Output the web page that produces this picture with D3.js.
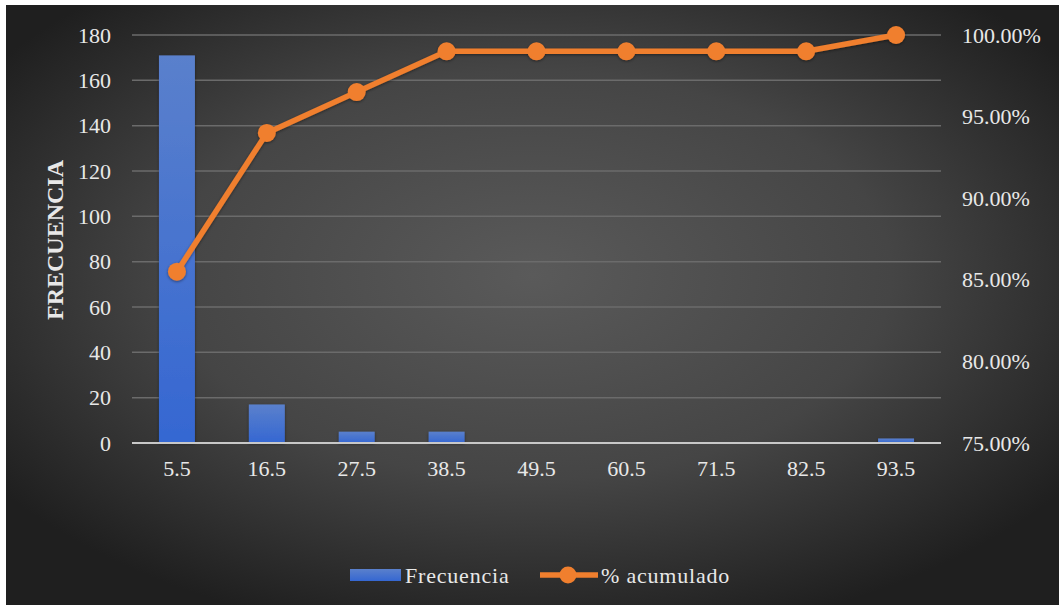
<!DOCTYPE html>
<html>
<head>
<meta charset="utf-8">
<script src="https://cdn.jsdelivr.net/npm/d3@7"></script>
<style>
html,body{margin:0;padding:0;background:#fff;}
svg{display:block;}
text{font-family:"Liberation Serif","Times New Roman",serif;}
</style>
</head>
<body>
<svg id="chart" width="1059" height="605"></svg>
<script>
const categories = ["5.5","16.5","27.5","38.5","49.5","60.5","71.5","82.5","93.5"];
const frecuencia = [171, 17, 5, 5, 0, 0, 0, 0, 2];
const acumulado = [0.855, 0.94, 0.965, 0.99, 0.99, 0.99, 0.99, 0.99, 1.0];
const leftTicks = [0,20,40,60,80,100,120,140,160,180];
const rightTicks = [0.75,0.80,0.85,0.90,0.95,1.00];

const W = 1059, H = 605;
const svg = d3.select("#chart");
const defs = svg.append("defs");

const bg = defs.append("radialGradient").attr("id","bg")
  .attr("cx","50%").attr("cy","45%").attr("r","62%");
bg.append("stop").attr("offset","0%").attr("stop-color","#5a5a5a");
bg.append("stop").attr("offset","55%").attr("stop-color","#454545");
bg.append("stop").attr("offset","100%").attr("stop-color","#1f1f1f");

const bar = defs.append("linearGradient").attr("id","barg")
  .attr("x1","0").attr("y1","0").attr("x2","0").attr("y2","1");
bar.append("stop").attr("offset","0%").attr("stop-color","#5a80cc");
bar.append("stop").attr("offset","100%").attr("stop-color","#3567d2");

const sh = defs.append("filter").attr("id","sh").attr("x","-30%").attr("y","-30%").attr("width","160%").attr("height","160%");
sh.append("feDropShadow").attr("dx",0).attr("dy",1).attr("stdDeviation",1.5).attr("flood-color","#000").attr("flood-opacity",0.45);

svg.append("rect").attr("width",W).attr("height",H).attr("fill","#fff");
svg.append("rect").attr("x",6).attr("y",5).attr("width",W-6).attr("height",H-5).attr("fill","url(#bg)");

const plot = {left:132, right:941, top:35, bottom:443};
const FS = "22px";
const TXT = "#e8e8e8";

const x = d3.scaleBand().domain(categories).range([plot.left, plot.right]).paddingInner(0.6).paddingOuter(0.3);
const y = d3.scaleLinear().domain([0,180]).range([plot.bottom, plot.top]);
const y2 = d3.scaleLinear().domain([0.75,1.0]).range([plot.bottom, plot.top]);

// gridlines
svg.append("g").selectAll("line").data(leftTicks.filter(d=>d>0)).join("line")
  .attr("x1",plot.left).attr("x2",plot.right)
  .attr("y1",d=>y(d)).attr("y2",d=>y(d))
  .attr("stroke","#6b6b6b").attr("stroke-width",1.5);

// left axis
const yAxis = d3.axisLeft(y).tickValues(leftTicks).tickSize(0).tickPadding(0);
const gy = svg.append("g").attr("transform",`translate(${plot.left-21},0)`).call(yAxis);
gy.select(".domain").remove();
gy.selectAll("text").attr("fill",TXT).attr("font-size",FS)
  .attr("font-family","'Liberation Serif','Times New Roman',serif");

// right axis
const y2Axis = d3.axisRight(y2).tickValues(rightTicks).tickSize(0).tickPadding(0)
  .tickFormat(d3.format(".2%"));
const gy2 = svg.append("g").attr("transform",`translate(${plot.right+21},0)`).call(y2Axis);
gy2.select(".domain").remove();
gy2.selectAll("text").attr("fill",TXT).attr("font-size",FS)
  .attr("font-family","'Liberation Serif','Times New Roman',serif");

// bars
svg.append("g").selectAll("rect").data(frecuencia.map((v,i)=>({c:categories[i],v}))).join("rect")
  .attr("x",d=>x(d.c)).attr("width",x.bandwidth())
  .attr("y",d=>y(d.v)).attr("height",d=>plot.bottom-y(d.v))
  .attr("fill","url(#barg)").attr("filter","url(#sh)");

// x axis line
svg.append("line").attr("x1",plot.left).attr("x2",plot.right)
  .attr("y1",plot.bottom).attr("y2",plot.bottom)
  .attr("stroke","#c8c8c8").attr("stroke-width",2);

const xAxis = d3.axisBottom(x).tickSize(0).tickPadding(0);
const gx = svg.append("g").attr("transform",`translate(0,${plot.bottom+17})`).call(xAxis);
gx.select(".domain").remove();
gx.selectAll("text").attr("fill",TXT).attr("font-size",FS).attr("dy","0.71em")
  .attr("font-family","'Liberation Serif','Times New Roman',serif");

// line
const cx = c => x(c) + x.bandwidth()/2;
const pts = acumulado.map((v,i)=>({c:categories[i],v}));
const lineG = svg.append("g").attr("filter","url(#sh)");
lineG.append("path").datum(pts)
  .attr("d",d3.line().x(d=>cx(d.c)).y(d=>y2(d.v)))
  .attr("fill","none").attr("stroke","#f07f2e").attr("stroke-width",5.5).attr("stroke-linejoin","round");
lineG.selectAll("circle").data(pts).join("circle")
  .attr("cx",d=>cx(d.c)).attr("cy",d=>y2(d.v)).attr("r",9)
  .attr("fill","#f07f2e");

// y title
svg.append("text").attr("transform","translate(63,240) rotate(-90)")
  .attr("text-anchor","middle").attr("fill",TXT).attr("font-size","24px").attr("font-weight","bold")
  .text("FRECUENCIA");

// legend
const lg = svg.append("g");
lg.append("rect").attr("x",350).attr("y",569).attr("width",51).attr("height",12).attr("fill","url(#barg)");
lg.append("text").attr("x",405).attr("y",583).attr("fill",TXT).attr("font-size",FS).attr("letter-spacing","0.8px").text("Frecuencia");
lg.append("line").attr("x1",540).attr("x2",598).attr("y1",575).attr("y2",575)
  .attr("stroke","#f07f2e").attr("stroke-width",5.5);
lg.append("circle").attr("cx",568).attr("cy",575).attr("r",8.5).attr("fill","#f07f2e");
lg.append("text").attr("x",601).attr("y",583).attr("fill",TXT).attr("font-size",FS).attr("letter-spacing","0.8px").text("% acumulado");
</script>
</body>
</html>
